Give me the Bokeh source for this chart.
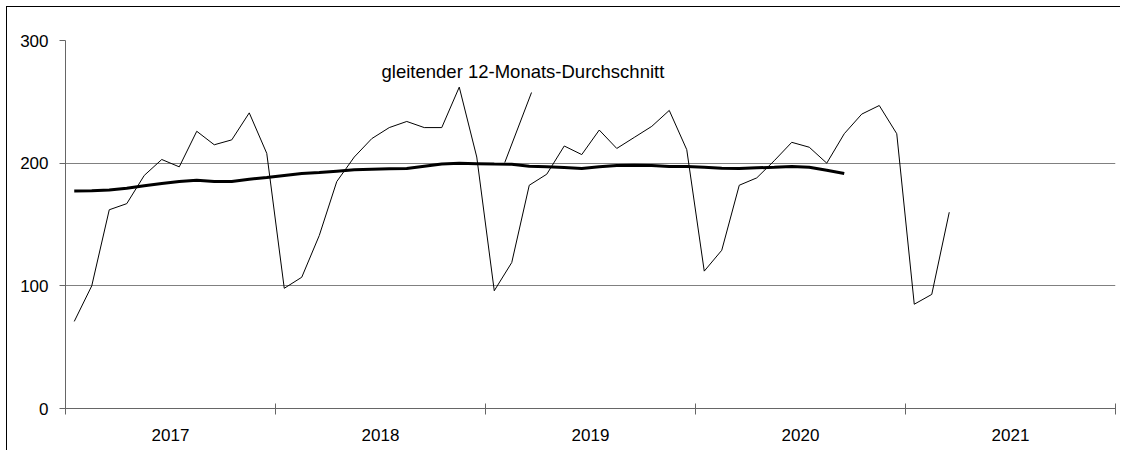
import numpy as np
from bokeh.plotting import figure
from bokeh.models import Range1d, FixedTicker, Label
from bokeh.embed import file_html
from bokeh.resources import INLINE

years = ["2017", "2018", "2019", "2020", "2021"]

# monthly values, Jan 2017 - Mar 2021
monthly_2017 = [71, 100, 162, 167, 190, 203, 197, 226, 215, 219, 241, 208]
monthly_2018 = [98, 107, 141, 185, 205, 220, 229, 234, 229, 229, 262, 205]
monthly_2019 = [96, 119, 182, 191, 214, 207, 227, 212, 221, 230, 243, 211]
monthly_2020 = [112, 129, 182, 188, 202, 217, 213, 200, 224, 240, 247, 224]
monthly_2021 = [85, 93, 160]

# 12-month moving average, Jan 2017 - Sep 2020
ma_2017 = [177.4, 177.6, 178.2, 179.6, 181.5, 183.4, 185.0, 186.1, 185.0, 185.0, 186.9, 188.3]
ma_2018 = [190.0, 191.6, 192.4, 193.5, 194.6, 195.1, 195.4, 195.6, 197.5, 199.4, 199.9, 199.6]
ma_2019 = [199.3, 199.1, 197.5, 197.0, 196.4, 195.7, 197.0, 198.1, 198.3, 198.1, 197.3, 197.3]
ma_2020 = [196.7, 195.9, 195.6, 196.2, 196.7, 197.3, 196.7, 194.3, 191.6]

label_text = "gleitender 12-Monats-Durchschnitt"

monthly = monthly_2017 + monthly_2018 + monthly_2019 + monthly_2020 + monthly_2021
ma = ma_2017 + ma_2018 + ma_2019 + ma_2020
x_monthly = np.arange(len(monthly)) + 0.5
x_ma = np.arange(len(ma)) + 0.5

FONT = "Liberation Sans"
AX = "#666666"

p = figure(width=1114, height=444, output_backend="svg", toolbar_location=None,
           x_range=Range1d(0, 12 * len(years)), y_range=Range1d(0, 300),
           min_border_left=58, min_border_right=6, min_border_top=33, min_border_bottom=43)
p.styles = {"border-left": "1px solid black", "border-top": "1px solid black",
            "margin-left": "6px", "margin-top": "6px"}
p.outline_line_color = None
p.background_fill_color = "white"
p.border_fill_color = "white"

p.line(x_monthly, monthly, line_color="black", line_width=1)
p.line(x_ma, ma, line_color="black", line_width=3)

# leader line from label to moving average
p.segment(x0=[25.1], y0=[200.5], x1=[26.63], y1=[257.6], line_color="black", line_width=1)
p.add_layout(Label(x=18.06, y=275, text=label_text, text_font=FONT, text_font_size="18.5px",
                   text_baseline="middle", text_align="left", text_color="black"))

# x axis
xa = p.xaxis[0]
xa.ticker = FixedTicker(ticks=[12 * i + 6 for i in range(len(years))],
                        minor_ticks=[12 * i for i in range(len(years) + 1)])
xa.major_label_overrides = {12 * i + 6: y for i, y in enumerate(years)}
xa.major_tick_line_color = None
xa.major_tick_in = 0
xa.major_tick_out = 0
xa.minor_tick_in = 5
xa.minor_tick_out = 6
xa.minor_tick_line_color = AX
xa.axis_line_color = AX
xa.major_label_standoff = 14
xa.major_label_text_font = FONT
xa.major_label_text_font_size = "17px"
xa.major_label_text_color = "black"

# y axis
ya = p.yaxis[0]
ya.ticker = FixedTicker(ticks=[0, 100, 200, 300])
ya.major_tick_in = 0
ya.major_tick_out = 6
ya.minor_tick_line_color = None
ya.major_tick_line_color = AX
ya.axis_line_color = AX
ya.major_label_standoff = 11
ya.major_label_text_font = FONT
ya.major_label_text_font_size = "17px"
ya.major_label_text_color = "black"

p.xgrid.visible = False
p.ygrid.ticker = FixedTicker(ticks=[100, 200, 300])
p.ygrid.grid_line_color = "#808080"

open("out.html", "w").write(file_html(p, INLINE))
